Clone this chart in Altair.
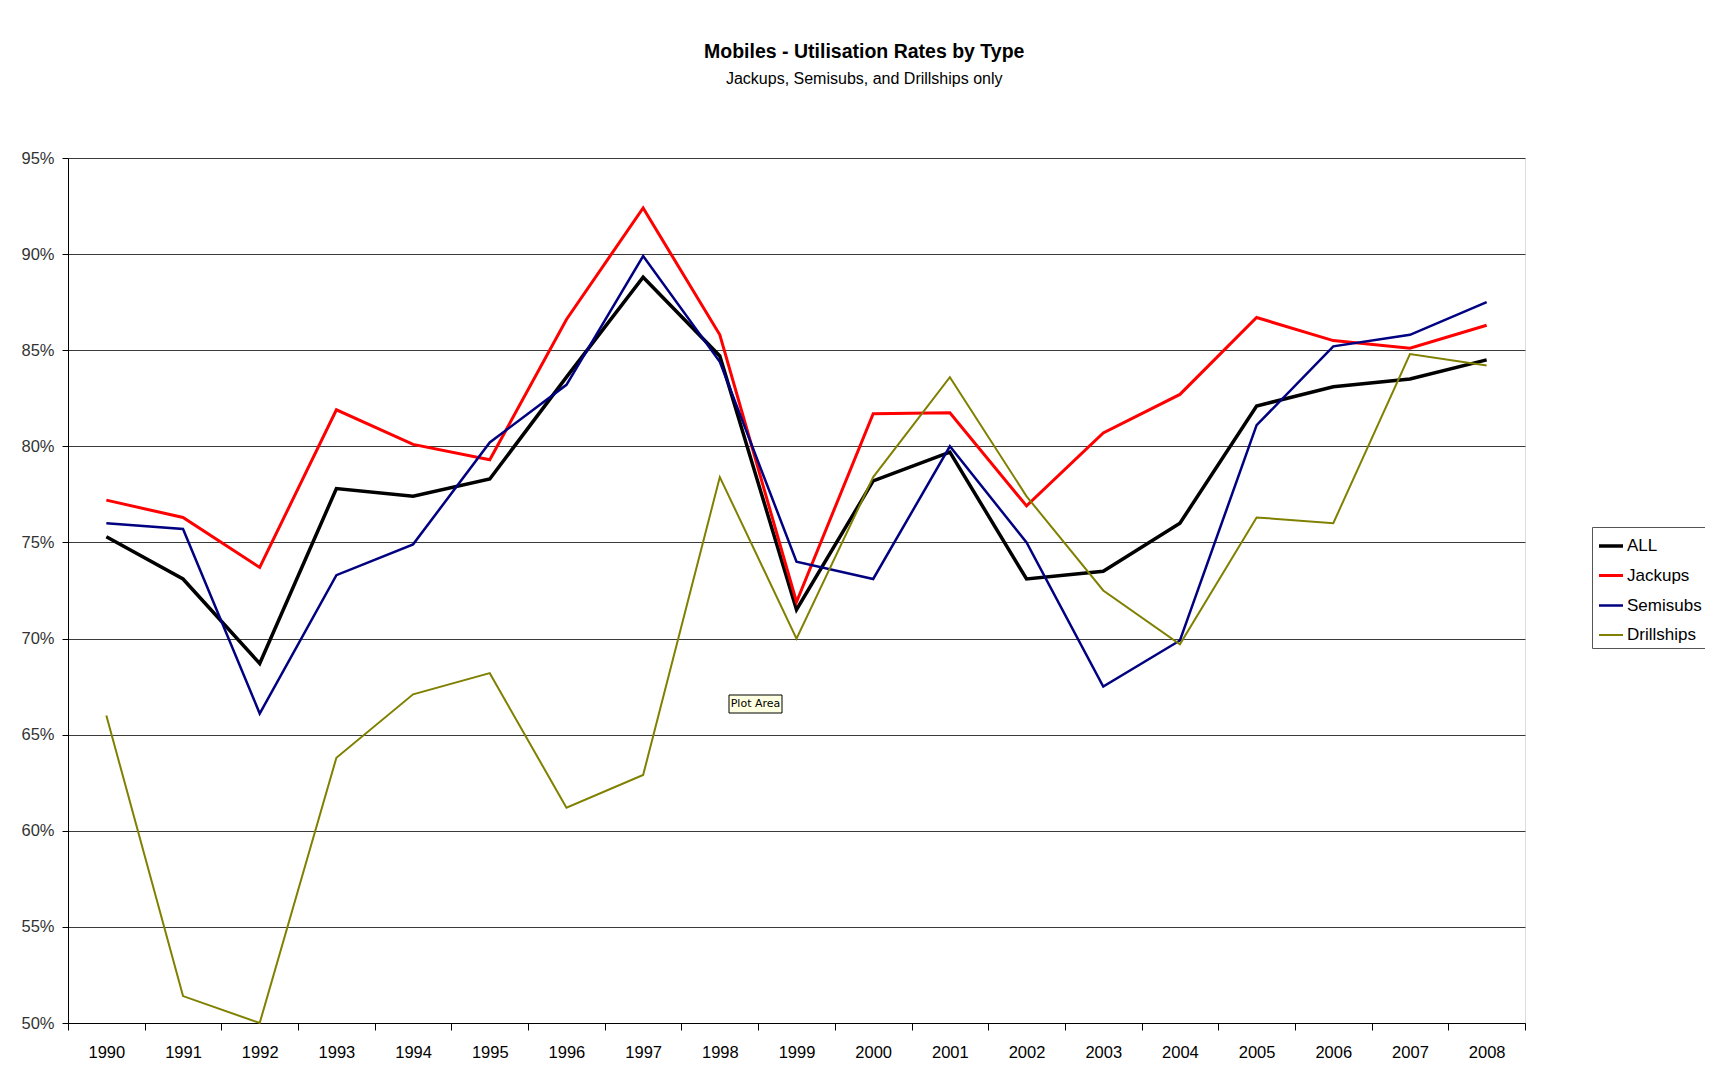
import altair as alt
import pandas as pd

years = [str(y) for y in range(1990, 2009)]
series_names = ["ALL", "Jackups", "Semisubs", "Drillships"]
all_vals = [75.3, 73.1, 68.7, 77.8, 77.4, 78.3, 83.6, 88.8, 84.7, 71.5, 78.2, 79.7, 73.1, 73.5, 76.0, 82.1, 83.1, 83.5, 84.5]
jackups = [77.2, 76.3, 73.7, 81.9, 80.1, 79.3, 86.6, 92.4, 85.8, 71.9, 81.7, 81.75, 76.9, 80.7, 82.7, 86.7, 85.5, 85.1, 86.3]
semisubs = [76.0, 75.7, 66.1, 73.3, 74.9, 80.2, 83.2, 89.9, 84.4, 74.0, 73.1, 80.0, 75.0, 67.5, 69.9, 81.1, 85.2, 85.8, 87.5]
drillships = [66.0, 51.4, 50.0, 63.8, 67.1, 68.2, 61.2, 62.9, 78.4, 70.0, 78.4, 83.6, 77.4, 72.5, 69.7, 76.3, 76.0, 84.8, 84.2]
y_ticks = [50, 55, 60, 65, 70, 75, 80, 85, 90, 95]
colors = ["#000000", "#FF0000", "#000080", "#808000"]
widths = [3.5, 2, 2, 2.2]

rows = []
for name, vals in zip(series_names, [all_vals, jackups, semisubs, drillships]):
    for yr, v in zip(years, vals):
        rows.append({"Year": yr, "Series": name, "Rate": v})
df = pd.DataFrame(rows)

FONT = "Liberation Sans, Arial, sans-serif"

lines = alt.Chart(df).mark_line(strokeJoin="miter", clip=False).encode(
    x=alt.X("Year:N", sort=years, scale=alt.Scale(type="band", paddingInner=0, paddingOuter=0),
            axis=alt.Axis(title=None, labelAngle=0, tickBand="extent", tickSize=7, tickColor="#000000",
                          domainColor="#000000", labelFont=FONT, labelFontSize=16.5, labelColor="#000000",
                          labelPadding=14, grid=False)),
    y=alt.Y("Rate:Q", scale=alt.Scale(domain=[50, 95], nice=False, zero=False),
            axis=alt.Axis(title=None, values=y_ticks, labelExpr="datum.value + '%'", tickSize=6,
                          tickColor="#000000", domainColor="#000000", labelFont=FONT, labelFontSize=16.5,
                          labelColor="#333333", labelPadding=8, grid=True, gridColor="#3a3a3a",
                          gridWidth=1.2)),
    color=alt.Color("Series:N", sort=series_names,
                    scale=alt.Scale(domain=series_names, range=colors),
                    legend=alt.Legend(title=None, orient="none", legendX=1524, legendY=369,
                                      symbolType="stroke", symbolSize=576, labelFont=FONT,
                                      labelFontSize=17, labelColor="#000000", strokeColor="#555555",
                                      fillColor="#FFFFFF", padding=5, rowPadding=8, labelOffset=2)),
    strokeWidth=alt.StrokeWidth("Series:N", sort=series_names,
                                scale=alt.Scale(domain=series_names, range=widths), legend=None),
    order=alt.Order("order:Q"),
).transform_calculate(
    order="indexof(['Drillships','Semisubs','Jackups','ALL'], datum.Series)"
)

tip_df = pd.DataFrame({"label": ["Plot Area"]})
tip_box = alt.Chart(tip_df).mark_rect(fill="#FFFFE1", stroke="#000000", strokeWidth=1).encode(
    x=alt.value(661), x2=alt.value(714), y=alt.value(537), y2=alt.value(555)
)
tip_text = alt.Chart(tip_df).mark_text(font="DejaVu Sans", fontSize=11, color="#000000").encode(
    x=alt.value(687.5), y=alt.value(546), text="label:N"
)

chart = alt.layer(lines, tip_box, tip_text).properties(
    width=1457, height=865,
    title=alt.TitleParams(text="Mobiles - Utilisation Rates by Type",
                          subtitle="Jackups, Semisubs, and Drillships only",
                          anchor="middle", frame="bounds", font=FONT, fontSize=19.5, fontWeight="bold",
                          color="#000000", subtitleFont=FONT, subtitleFontSize=16, subtitleColor="#000000",
                          subtitlePadding=9, offset=62),
    autosize=alt.AutoSizeParams(type="none"),
    padding={"left": 60, "top": 150, "right": 180, "bottom": 40},
).configure_view(stroke="#808080", strokeWidth=1).configure(background="#FFFFFF")

chart.save("out.html", embed_options={"renderer": "svg", "actions": False})
